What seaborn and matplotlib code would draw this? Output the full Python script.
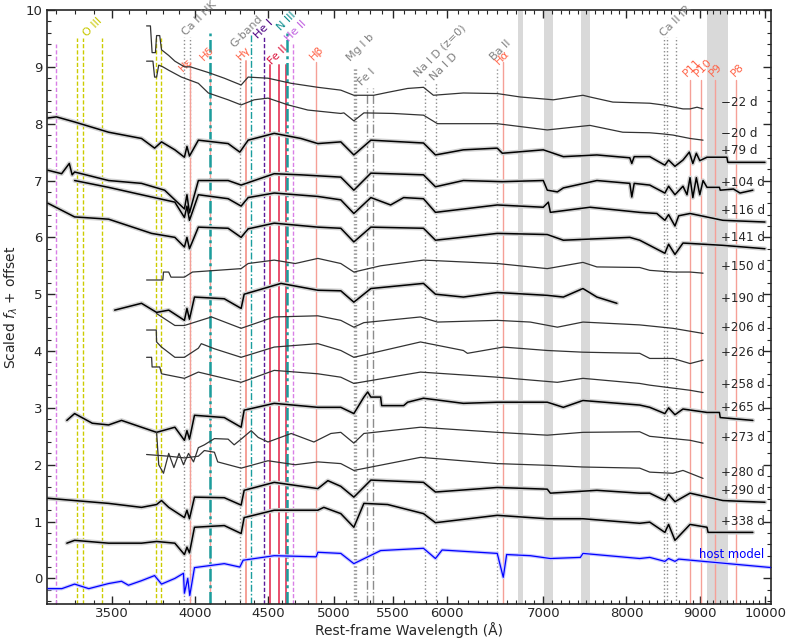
import matplotlib
matplotlib.use("Agg")
import matplotlib.pyplot as plt
import matplotlib.ticker as mticker
import matplotlib.transforms as mtrans
import seaborn as sns

# spectra: (rest wavelength in A, scaled flux + offset)
spec_m22 = [(3702, 9.72), (3725, 9.72), (3735, 9.25), (3755, 9.25), (3762, 9.55), (3781, 9.55), (3792, 9.3),
            (3836, 9.2), (3874, 9.1), (3934, 9.0), (3972, 9.0), (4088, 8.9), (4194, 8.8), (4309, 8.68),
            (4358, 8.82), (4499, 8.8), (4670, 8.71), (4874, 8.64), (5057, 8.59), (5164, 8.5), (5332, 8.5),
            (5450, 8.55), (5630, 8.62), (5775, 8.64), (5868, 8.5), (6157, 8.54), (6501, 8.53), (6745, 8.47),
            (7114, 8.42), (7460, 8.5), (7544, 8.47), (7827, 8.38), (8305, 8.36), (8482, 8.33), (8760, 8.26),
            (8860, 8.26), (8960, 8.29), (9047, 8.26)]
spec_m20 = [(3702, 9.1), (3740, 9.1), (3750, 8.82), (3762, 8.82), (3775, 9.03), (3800, 9.0), (3836, 8.94),
            (3915, 8.82), (4023, 8.71), (4088, 8.54), (4220, 8.42), (4309, 8.33), (4400, 8.42), (4499, 8.45),
            (4647, 8.33), (4796, 8.24), (5057, 8.18), (5082, 8.19), (5164, 8.05), (5248, 8.19), (5500, 8.18),
            (5775, 8.15), (5906, 8.0), (6501, 8.0), (7045, 7.89), (7544, 7.97), (7953, 7.85), (8305, 7.84),
            (8482, 7.82), (8620, 7.8), (8860, 7.74), (9047, 7.71)]
spec_p79 = [(3160, 8.1), (3203, 8.12), (3298, 8.03), (3483, 7.85), (3672, 7.74), (3750, 7.57), (3792, 7.68),
            (3874, 7.54), (3934, 7.41), (3950, 7.6), (3966, 7.43), (4023, 7.71), (4220, 7.65), (4300, 7.5),
            (4358, 7.71), (4544, 7.83), (4743, 7.74), (4874, 7.65), (5057, 7.68), (5164, 7.45), (5307, 7.71),
            (5775, 7.66), (5887, 7.45), (6157, 7.54), (6501, 7.57), (6554, 7.48), (7000, 7.54), (7229, 7.42),
            (7629, 7.45), (8043, 7.4), (8069, 7.3), (8100, 7.42), (8305, 7.42), (8509, 7.27), (8560, 7.36),
            (8648, 7.25), (8760, 7.36), (8850, 7.5), (8900, 7.3), (8950, 7.48), (9000, 7.35), (9105, 7.41),
            (9400, 7.41), (9414, 7.32), (9993, 7.32)]
spec_p104 = [(3160, 7.18), (3230, 7.12), (3270, 7.3), (3285, 7.1), (3298, 7.15), (3483, 7.0), (3672, 6.95),
             (3811, 6.83), (3934, 6.5), (3950, 6.75), (3966, 6.43), (4023, 7.0), (4220, 7.0), (4309, 6.92),
             (4544, 7.12), (4743, 7.1), (5057, 7.06), (5164, 6.83), (5307, 7.13), (5775, 7.1), (5887, 6.89),
             (6157, 7.0), (6554, 6.98), (7000, 7.0), (7045, 6.83), (7160, 6.8), (7229, 6.87), (7629, 7.0),
             (8043, 6.95), (8069, 6.71), (8100, 6.95), (8305, 6.92), (8509, 6.78), (8560, 6.9), (8648, 6.75),
             (8760, 6.9), (8817, 6.75), (8860, 7.05), (8900, 6.7), (8950, 7.05), (9000, 6.75), (9047, 7.0),
             (9105, 6.88), (9288, 6.88), (9300, 6.83), (9500, 6.85), (9600, 6.78), (9800, 6.83)]
spec_p116 = [(3298, 7.0), (3483, 6.88), (3672, 6.75), (3874, 6.62), (3934, 6.35), (3950, 6.55), (3966, 6.3),
             (4023, 6.75), (4220, 6.68), (4309, 6.55), (4358, 6.7), (4544, 6.78), (4874, 6.72), (5057, 6.66),
             (5164, 6.42), (5307, 6.7), (5478, 6.57), (5594, 6.7), (5775, 6.68), (5887, 6.44), (6501, 6.57),
             (7000, 6.53), (7057, 6.62), (7080, 6.44), (7544, 6.53), (8172, 6.44), (8400, 6.42), (8509, 6.3),
             (8560, 6.4), (8648, 6.2), (8700, 6.38), (8860, 6.42), (9339, 6.3), (9993, 6.27)]
spec_p141 = [(3160, 6.6), (3298, 6.36), (3483, 6.32), (3732, 6.07), (3874, 6.0), (3934, 5.83), (3950, 6.0),
             (3966, 5.8), (4023, 6.18), (4220, 6.16), (4309, 6.0), (4358, 6.15), (4544, 6.25), (4874, 6.18),
             (5057, 6.16), (5164, 5.92), (5307, 6.18), (5775, 6.16), (5887, 5.95), (6501, 6.07), (7045, 6.05),
             (7229, 5.95), (8043, 6.0), (8172, 5.95), (8509, 5.72), (8560, 5.88), (8648, 5.7), (8760, 5.9),
             (9339, 5.86), (9993, 5.8)]
spec_p150 = [(3702, 5.25), (3800, 5.25), (3804, 5.39), (3836, 5.39), (3850, 5.3), (3934, 5.3), (3985, 5.39),
             (4309, 5.45), (4358, 5.54), (4544, 5.6), (4700, 5.54), (4874, 5.63), (5057, 5.54), (5164, 5.39),
             (5391, 5.5), (5775, 5.6), (6501, 5.54), (7045, 5.45), (7460, 5.56), (7629, 5.48), (8172, 5.47),
             (8305, 5.42), (8620, 5.39), (8860, 5.39), (9047, 5.37)]
spec_p190 = [(3517, 4.72), (3672, 4.84), (3762, 4.68), (3836, 4.72), (3934, 4.54), (3950, 4.75), (3966, 4.56),
             (3998, 4.95), (4194, 4.92), (4309, 4.75), (4330, 5.0), (4594, 5.19), (4874, 5.07), (5057, 5.06),
             (5164, 4.86), (5307, 5.1), (5775, 5.19), (5887, 5.0), (6157, 4.95), (6501, 5.03), (7045, 4.98),
             (7229, 4.95), (7460, 5.1), (7629, 4.95), (7878, 4.84)]
spec_p206 = [(3762, 4.66), (3874, 4.45), (3934, 4.45), (4109, 4.6), (4309, 4.4), (4544, 4.6), (4874, 4.62),
             (5057, 4.54), (5164, 4.42), (5248, 4.5), (5747, 4.6), (5906, 4.51), (6501, 4.54), (6855, 4.51),
             (7160, 4.42), (7460, 4.51), (8172, 4.46), (8620, 4.4), (9047, 4.31)]
spec_p226 = [(3702, 4.37), (3760, 4.37), (3762, 4.16), (3792, 4.07), (3874, 3.89), (3934, 3.89), (4023, 4.05),
             (4042, 4.13), (4128, 4.04), (4309, 3.89), (4544, 4.07), (4874, 4.13), (5057, 4.01), (5164, 3.89),
             (5747, 4.16), (6157, 4.01), (6197, 3.96), (6564, 4.07), (7045, 4.01), (7460, 3.98), (8172, 3.96),
             (8305, 3.87), (8620, 3.87), (8860, 3.78), (9047, 3.84)]
spec_p258 = [(3702, 3.89), (3732, 3.89), (3735, 3.72), (3781, 3.72), (3792, 3.6), (3934, 3.52), (4023, 3.63),
             (4309, 3.45), (4544, 3.66), (4874, 3.6), (5057, 3.54), (5164, 3.43), (5747, 3.63), (6501, 3.54),
             (7160, 3.45), (7460, 3.52), (8172, 3.43), (8305, 3.4), (8860, 3.31), (9047, 3.27)]
spec_p265 = [(3257, 2.78), (3298, 2.9), (3393, 2.73), (3483, 2.7), (3556, 2.78), (3672, 2.66), (3762, 2.57),
             (3874, 2.66), (3934, 2.43), (3950, 2.6), (3966, 2.45), (3998, 2.87), (4194, 2.83), (4309, 2.66),
             (4330, 2.96), (4544, 3.08), (4874, 3.01), (5057, 3.01), (5164, 2.9), (5248, 3.19), (5280, 3.28),
             (5307, 3.19), (5391, 3.19), (5400, 3.04), (5594, 3.04), (5630, 3.1), (5775, 3.17), (6157, 3.08),
             (6501, 3.1), (7045, 3.1), (7229, 3.01), (7460, 3.13), (8172, 3.05), (8305, 3.01), (8509, 2.9),
             (8560, 3.0), (8648, 2.88), (8760, 2.98), (9105, 2.92), (9288, 2.92), (9300, 2.83), (9800, 2.78)]
spec_p273 = [(3762, 2.57), (3775, 2.0), (3804, 1.85), (3836, 2.2), (3868, 1.95), (3900, 2.2), (3928, 2.0),
             (3960, 2.2), (3992, 2.05), (4023, 2.3), (4062, 2.35), (4128, 2.46), (4220, 2.45), (4261, 2.35),
             (4309, 2.45), (4379, 2.6), (4429, 2.48), (4499, 2.4), (4670, 2.55), (4843, 2.4), (4977, 2.55),
             (5057, 2.57), (5164, 2.38), (5248, 2.55), (5747, 2.66), (6501, 2.57), (7045, 2.52), (7460, 2.57),
             (8172, 2.58), (8305, 2.5), (8860, 2.43), (9047, 2.38)]
spec_p280 = [(3702, 2.18), (3836, 2.15), (3934, 2.12), (4023, 2.15), (4062, 2.25), (4128, 2.22), (4150, 2.05),
             (4309, 1.94), (4499, 2.07), (4700, 2.0), (4874, 2.05), (5057, 2.02), (5164, 1.9), (5747, 2.13),
             (6501, 2.02), (7045, 1.99), (7460, 1.96), (8172, 1.94), (8305, 1.87), (8620, 1.85), (8760, 1.9),
             (9047, 1.76)]
spec_p290 = [(3160, 1.41), (3298, 1.37), (3483, 1.32), (3672, 1.25), (3762, 1.3), (3792, 1.37), (3836, 1.25),
             (3934, 1.07), (3950, 1.2), (3966, 1.05), (3998, 1.43), (4194, 1.42), (4309, 1.29), (4330, 1.55),
             (4544, 1.69), (4874, 1.58), (4953, 1.72), (5057, 1.62), (5164, 1.43), (5307, 1.73), (5775, 1.69),
             (5887, 1.52), (6501, 1.6), (7045, 1.57), (7080, 1.5), (7629, 1.55), (8172, 1.5), (8305, 1.5),
             (8509, 1.37), (8560, 1.48), (8648, 1.35), (8860, 1.5), (9339, 1.37), (9993, 1.34)]
spec_p338 = [(3257, 0.62), (3298, 0.67), (3483, 0.62), (3672, 0.62), (3762, 0.65), (3874, 0.62), (3934, 0.42),
             (3950, 0.55), (3966, 0.45), (3998, 0.9), (4194, 0.93), (4309, 0.79), (4330, 1.07), (4544, 1.2),
             (4874, 1.2), (4921, 1.25), (5057, 1.14), (5164, 0.9), (5248, 1.32), (5452, 1.3), (5775, 1.14),
             (5887, 0.98), (6501, 1.11), (7045, 1.05), (7460, 1.05), (8172, 0.97), (8305, 0.99), (8509, 0.81),
             (8560, 0.95), (8648, 0.67), (8860, 0.95), (9105, 0.9), (9120, 0.81), (9490, 0.81), (9800, 0.81)]
spec_host = [(3160, -0.18), (3231, -0.18), (3298, -0.1), (3374, -0.18), (3483, -0.09), (3556, -0.05),
             (3596, -0.12), (3672, -0.04), (3750, 0.05), (3792, -0.1), (3874, 0.0), (3928, 0.09), (3934, -0.26),
             (3955, 0.0), (3968, -0.3), (3998, 0.19), (4194, 0.26), (4300, 0.2), (4323, 0.32), (4544, 0.4),
             (4861, 0.38), (4874, 0.46), (5057, 0.44), (5164, 0.26), (5391, 0.49), (5775, 0.53), (5887, 0.35),
             (5950, 0.5), (6501, 0.44), (6564, 0.02), (6600, 0.42), (6855, 0.4), (7080, 0.35), (7430, 0.37),
             (7460, 0.44), (8172, 0.35), (8305, 0.37), (8509, 0.3), (8560, 0.35), (8648, 0.3), (8700, 0.34),
             (10100, 0.19)]

phases = ["\u221222 d", "\u221220 d", "+79 d", "+104 d", "+116 d", "+141 d", "+150 d", "+190 d", "+206 d",
          "+226 d", "+258 d", "+265 d", "+273 d", "+280 d", "+290 d", "+338 d"]
spectra = [spec_m22, spec_m20, spec_p79, spec_p104, spec_p116, spec_p141, spec_p150, spec_p190, spec_p206,
           spec_p226, spec_p258, spec_p265, spec_p273, spec_p280, spec_p290, spec_p338]
noisy = ["+79 d", "+104 d", "+116 d", "+141 d", "+190 d", "+265 d", "+290 d", "+338 d"]

# telluric regions (rest frame)
telluric = [(6725, 6780), (7010, 7110), (7440, 7545), (9110, 9410)]

# line ids (A)
lines_heii = [3203, 4686]
lines_oiii = [3312, 3341, 3444, 3760, 3791]
lines_fei = [5270, 5328]
lines_feii = [4515, 4576, 4629]
lines_niii_thick = [4100, 4640]
lines_niii_thin = [4379]
lines_hei = [4471]

sns.set_style("ticks")
plt.rcParams["font.family"] = ["DejaVu Sans"]

fig = plt.figure(figsize=(7.89, 6.4), dpi=100)
ax = fig.add_axes([47 / 789, 36 / 640, 724 / 789, 594 / 640])
ax.set_xscale("log")
ax.set_xlim(3155, 10090)
ax.set_ylim(-0.45, 10)
ybot = -0.45

for lo, hi in telluric:
    ax.axvspan(lo, hi, color="#d9d9d9", lw=0, zorder=0)


def vl(xs, top, color, ls="-", lw=1.0):
    for x in xs:
        ax.plot([x, x], [ybot, top], color=color, ls=ls, lw=lw, zorder=1)


dash = (0, (3, 1.5))
dashdot = (0, (5, 1.5, 1.2, 1.5))
vl(lines_heii, 9.4, "#d97fe6", dash)
vl(lines_oiii, 9.5, "#cccc00", dash)
vl([3934, 3969], 9.52, "0.55", ":")
vl([4304], 9.2, "0.55", ":")
vl([5167, 5173, 5184], 9.0, "0.6", ":")
vl([5787], 8.8, "0.55", ":")
vl([5893], 8.73, "0.55", ":")
vl([6497], 9.0, "0.6", ":")
vl([8498, 8542, 8662], 9.52, "0.55", ":")
vl(lines_fei, 8.63, "0.55", "-.")
vl([3970], 9.08, "#f5a097")
vl([4102], 9.07, "#f5a097")
vl([4340], 9.1, "#f5a097", "-", 1.4)
vl([4861, 6563], 9.08, "#f5a097")
vl([8863, 9015, 9229, 9546], 8.77, "#f5a097")
vl(lines_feii, 9.03, "#e8506e", "-", 1.4)
vl(lines_niii_thick, 9.6, "#1a9e9e", dashdot, 1.8)
vl(lines_niii_thin, 9.56, "#1a9e9e", dashdot, 1.0)
vl(lines_hei, 9.52, "#5b1a9a", dash)

# line labels: text, wavelength of label centre, bottom, colour
line_labels = [("O III", 3395, 9.5, "#c8c800"), ("Ca II HK", 4029, 9.52, "0.5"), ("H\u03b5", 3945, 8.89, "tomato"),
               ("H\u03b4", 4078, 9.07, "tomato"), ("G-band", 4344, 9.3, "0.5"), ("H\u03b3", 4323, 9.08, "tomato"),
               ("He I", 4471, 9.47, "#4b0082"), ("N III", 4638, 9.61, "#109090"), ("He II", 4706, 9.42, "#c060e0"),
               ("Fe II", 4572, 9.0, "crimson"), ("H\u03b2", 4867, 9.08, "tomato"), ("Mg I b", 5221, 9.07, "0.5"),
               ("Fe I", 5272, 8.64, "0.5"), ("Na I D (z=0)", 5934, 8.8, "0.5"), ("Na I D", 5963, 8.73, "0.5"),
               ("Ba II", 6532, 9.08, "0.5"), ("H\u03b1", 6553, 9.0, "tomato"), ("Ca II IR", 8657, 9.5, "0.5"),
               ("P11", 8896, 8.8, "tomato"), ("P10", 9053, 8.8, "tomato"), ("P9", 9229, 8.8, "tomato"),
               ("P8", 9560, 8.8, "tomato")]
for txt, x, y, c in line_labels:
    ax.text(x, y, txt, color=c, rotation=45, ha="center", va="bottom", fontsize=8)

for name, spec in zip(phases, spectra):
    w, f = zip(*spec)
    if name in noisy:
        sns.lineplot(x=list(w), y=list(f), ax=ax, color="0.82", lw=3.2, sort=False, estimator=None, zorder=2)
        sns.lineplot(x=list(w), y=list(f), ax=ax, color="black", lw=1.1, sort=False, estimator=None, zorder=3)
    else:
        sns.lineplot(x=list(w), y=list(f), ax=ax, color="0.2", lw=0.9, sort=False, estimator=None, zorder=3)

w, f = zip(*spec_host)
sns.lineplot(x=list(w), y=list(f), ax=ax, color="#c8c8ff", lw=2.5, sort=False, estimator=None, zorder=2)
sns.lineplot(x=list(w), y=list(f), ax=ax, color="blue", lw=0.9, sort=False, estimator=None, zorder=3)

label_y = [8.38, 7.83, 7.53, 6.97, 6.48, 5.99, 5.48, 4.93, 4.42, 3.98, 3.42, 3.01, 2.48, 1.87, 1.55, 1.0]
trans = mtrans.blended_transform_factory(ax.transAxes, ax.transData)
for name, y in zip(phases, label_y):
    ax.text(0.931, y, name, transform=trans, ha="left", va="center", fontsize=8.6, zorder=5)
ax.text(0.90, 0.42, "host model", transform=trans, ha="left", va="center", fontsize=8.4, color="blue", zorder=5)

major = [3500, 4000, 4500, 5000, 5500, 6000, 7000, 8000, 9000, 10000]
ax.xaxis.set_major_locator(mticker.FixedLocator(major))
ax.xaxis.set_major_formatter(mticker.FixedFormatter([str(m) for m in major]))
ax.xaxis.set_minor_locator(mticker.FixedLocator(list(range(3200, 10100, 100))))
ax.xaxis.set_minor_formatter(mticker.NullFormatter())
ax.yaxis.set_major_locator(mticker.MultipleLocator(1))
ax.yaxis.set_minor_locator(mticker.MultipleLocator(0.2))
ax.tick_params(which="both", direction="in", top=True, right=True, labelsize=9.5)
ax.tick_params(axis="x", pad=2.5)
ax.tick_params(which="major", length=6, width=1)
ax.tick_params(which="minor", length=3, width=0.8)
for s in ax.spines.values():
    s.set_linewidth(1.2)

ax.set_xlabel("Rest-frame Wavelength (\u00c5)", fontsize=10, labelpad=1)
ax.set_ylabel("Scaled $f_\\lambda$ + offset", fontsize=10)

fig.savefig("out.png", dpi=100)
